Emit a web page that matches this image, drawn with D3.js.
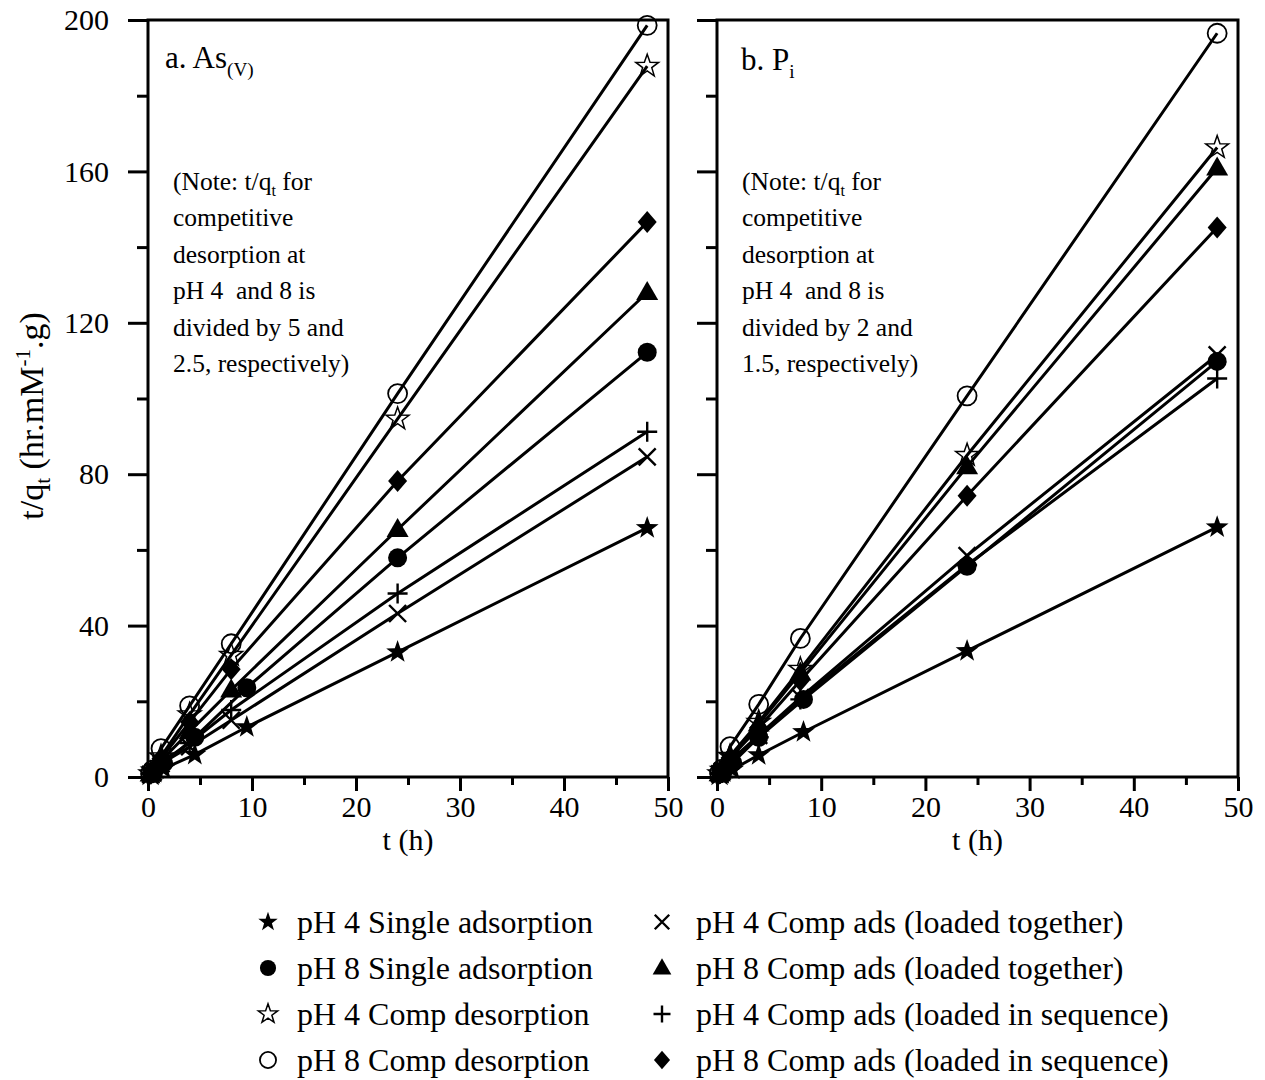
<!DOCTYPE html>
<html>
<head>
<meta charset="utf-8">
<script src="https://cdn.jsdelivr.net/npm/d3@7/dist/d3.min.js"></script>
<style>
  html, body { margin: 0; padding: 0; background: #fff; }
  svg { display: block; font-family: "Liberation Serif", "Times New Roman", serif; }
  text { white-space: pre; }
</style>
</head>
<body>
<svg id="chart" width="1265" height="1080"></svg>
<script>
// Sampling times (h)
const timesSingleAs = [0.5, 1.5, 4.5, 9.5, 24, 48];
const timesCompAs = [0.25, 0.5, 1.25, 4, 8, 24, 48];
const timesSingleP = [0.5, 1.5, 4, 8.3, 24, 48];
const timesCompP = [0.25, 0.5, 1.25, 4, 8, 24, 48];

// As(V): t/qt values
const asSingle4 = [0.8, 2.2, 5.9, 13.2, 33.0, 65.8];
const asSingle8 = [1.3, 3.6, 10.5, 23.6, 57.9, 112.2];
const asDesorb4 = [0.9, 1.6, 5.4, 16.5, 32.2, 94.6, 187.8];
const asDesorb8 = [1.0, 1.9, 7.5, 18.8, 35.2, 101.3, 198.6];
const asTogether4 = [0.7, 1.3, 3.5, 8.0, 15.0, 43.2, 84.6];
const asTogether8 = [0.8, 1.6, 4.3, 12.0, 23.0, 65.4, 128.0];
const asSequence4 = [0.7, 1.4, 3.8, 9.0, 17.7, 48.5, 91.2];
const asSequence8 = [0.9, 1.7, 4.9, 14.5, 28.5, 78.2, 146.6];

// Pi: t/qt values
const pSingle4 = [0.8, 2.0, 5.8, 11.9, 33.3, 66.0];
const pSingle8 = [1.3, 3.8, 10.5, 20.5, 55.7, 109.8];
const pDesorb4 = [0.9, 1.8, 5.5, 14.5, 28.5, 85.0, 166.3];
const pDesorb8 = [1.1, 2.1, 8.0, 19.2, 36.6, 100.7, 196.5];
const pTogether4 = [0.8, 1.5, 4.2, 11.0, 21.0, 58.5, 111.5];
const pTogether8 = [0.9, 1.7, 5.2, 14.0, 27.5, 82.0, 160.9];
const pSequence4 = [0.8, 1.5, 4.1, 10.5, 20.5, 56.0, 105.3];
const pSequence8 = [0.9, 1.7, 5.0, 13.0, 25.5, 74.3, 145.2];

// Legend labels and marker kinds
const seriesLabels = [
  "pH 4 Single adsorption", "pH 8 Single adsorption",
  "pH 4 Comp desorption", "pH 8 Comp desorption",
  "pH 4 Comp ads (loaded together)", "pH 8 Comp ads (loaded together)",
  "pH 4 Comp ads (loaded in sequence)", "pH 8 Comp ads (loaded in sequence)"
];
const seriesMarkers = ["star", "circle", "openStar", "openCircle", "cross", "triangle", "plus", "diamond"];

// Axis ticks
const xMajorTicks = [0, 10, 20, 30, 40, 50];
const xMinorTicks = [5, 15, 25, 35, 45];
const yMajorTicks = [0, 40, 80, 120, 160, 200];
const yMinorTicks = [20, 60, 100, 140, 180];

function buildSeries(single, comp, vals) {
  return vals.map((v, i) => {
    const ts = (i < 2) ? single : comp;
    return { marker: seriesMarkers[i], points: ts.map((t, j) => [t, v[j]]) };
  });
}
const asSeries = buildSeries(timesSingleAs, timesCompAs,
  [asSingle4, asSingle8, asDesorb4, asDesorb8, asTogether4, asTogether8, asSequence4, asSequence8]);
const pSeries = buildSeries(timesSingleP, timesCompP,
  [pSingle4, pSingle8, pDesorb4, pDesorb8, pTogether4, pTogether8, pSequence4, pSequence8]);

const svg = d3.select("#chart");
const plotTop = 20, plotBottom = 777;
const y = d3.scaleLinear().domain([0, 200]).range([plotBottom, plotTop]);

// Marker shapes
function starPath(R) {
  const pts = [];
  for (let i = 0; i < 10; i++) {
    const a = -Math.PI / 2 + i * Math.PI / 5;
    const r = (i % 2 === 0) ? R : R * 0.4;
    pts.push([r * Math.cos(a), r * Math.sin(a)]);
  }
  return "M" + pts.map(p => p[0].toFixed(2) + "," + p[1].toFixed(2)).join("L") + "Z";
}
function drawMarker(g, kind, s) {
  // s: scale factor (1 for plot, smaller for legend)
  switch (kind) {
    case "star":
      g.append("path").attr("d", starPath(12 * s)).attr("fill", "#000");
      break;
    case "openStar":
      g.append("path").attr("d", starPath(12 * s)).attr("fill", "none")
        .attr("stroke", "#000").attr("stroke-width", 1.5);
      break;
    case "circle":
      g.append("circle").attr("r", 9.5 * s).attr("fill", "#000");
      break;
    case "openCircle":
      g.append("circle").attr("r", 9.5 * s).attr("fill", "none")
        .attr("stroke", "#000").attr("stroke-width", 1.8);
      break;
    case "triangle": {
      const h = 19 * s, w = 11 * s;
      g.append("path").attr("d", `M0,${-h * 0.6}L${w},${h * 0.4}L${-w},${h * 0.4}Z`).attr("fill", "#000");
      break;
    }
    case "diamond": {
      const h = 11 * s, w = 9.5 * s;
      g.append("path").attr("d", `M0,${-h}L${w},0L0,${h}L${-w},0Z`).attr("fill", "#000");
      break;
    }
    case "cross": {
      const a = 8.5 * s;
      g.append("path").attr("d", `M${-a},${-a}L${a},${a}M${-a},${a}L${a},${-a}`)
        .attr("stroke", "#000").attr("stroke-width", 2.4).attr("fill", "none");
      break;
    }
    case "plus": {
      const a = 10 * s;
      g.append("path").attr("d", `M${-a},0L${a},0M0,${-a}L0,${a}`)
        .attr("stroke", "#000").attr("stroke-width", 2.4).attr("fill", "none");
      break;
    }
  }
}

function drawPanel(x0, x1, series, showYLabels) {
  const x = d3.scaleLinear().domain([0, 50]).range([x0, x1]);
  const g = svg.append("g");

  // frame
  g.append("rect").attr("x", x0).attr("y", plotTop).attr("width", x1 - x0).attr("height", plotBottom - plotTop)
    .attr("fill", "none").attr("stroke", "#000").attr("stroke-width", 3);

  // x axis
  const xa = g.append("g").attr("transform", `translate(0,${plotBottom})`)
    .call(d3.axisBottom(x).tickValues(xMajorTicks).tickSize(14).tickPadding(5).tickFormat(d3.format("d")));
  xa.append("g").call(d3.axisBottom(x).tickValues(xMinorTicks).tickSize(8).tickFormat(""));
  // y axis
  const ya = g.append("g").attr("transform", `translate(${x0},0)`)
    .call(d3.axisLeft(y).tickValues(yMajorTicks).tickSize(20).tickPadding(19)
      .tickFormat(showYLabels ? d3.format("d") : ""));
  ya.append("g").call(d3.axisLeft(y).tickValues(yMinorTicks).tickSize(11).tickFormat(""));

  g.selectAll(".domain").remove();
  g.selectAll(".tick line").attr("stroke", "#000").attr("stroke-width", 3);
  g.selectAll(".tick text").attr("font-family", "Liberation Serif").attr("font-size", 30).attr("fill", "#000");

  // lines
  const line = d3.line().x(d => x(d[0])).y(d => y(d[1]));
  g.selectAll("path.series").data(series).join("path").attr("class", "series")
    .attr("d", d => line(d.points)).attr("fill", "none").attr("stroke", "#000").attr("stroke-width", 3);

  // markers
  series.forEach(s => {
    s.points.forEach(p => {
      const mg = g.append("g").attr("transform", `translate(${x(p[0])},${y(p[1])})`);
      drawMarker(mg, s.marker, 1);
    });
  });

  // x title
  g.append("text").attr("x", (x0 + x1) / 2).attr("y", 850).attr("text-anchor", "middle")
    .attr("font-size", 30).text("t (h)");
  return g;
}

const gA = drawPanel(148, 668, asSeries, true);
const gB = drawPanel(717, 1238, pSeries, false);

// panel titles
function subText(g, xPos, yPos, main, sub, fs) {
  const t = g.append("text").attr("x", xPos).attr("y", yPos).attr("font-size", fs);
  t.append("tspan").text(main);
  t.append("tspan").attr("font-size", fs * 0.62).attr("dy", 8).text(sub);
  return t;
}
subText(gA, 165, 68, "a. As", "(V)", 31);
subText(gB, 741, 70, "b. P", "i", 31);

// notes
function note(g, xPos, lines) {
  lines.forEach((ln, i) => {
    const t = g.append("text").attr("x", xPos).attr("y", 190 + i * 36.4).attr("font-size", 25.5);
    if (i === 0) {
      t.append("tspan").text("(Note: t/q");
      t.append("tspan").attr("font-size", 16).attr("dy", 6).text("t");
      t.append("tspan").attr("dy", -6).text(" for");
    } else {
      t.text(ln);
    }
  });
}
note(gA, 173, ["", "competitive", "desorption at", "pH 4  and 8 is", "divided by 5 and", "2.5, respectively)"]);
note(gB, 742, ["", "competitive", "desorption at", "pH 4  and 8 is", "divided by 2 and", "1.5, respectively)"]);

// y title
const yt = svg.append("text").attr("transform", "translate(43,416) rotate(-90)")
  .attr("text-anchor", "middle").attr("font-size", 34);
yt.append("tspan").text("t/q");
yt.append("tspan").attr("font-size", 21).attr("dy", 7).text("t");
yt.append("tspan").attr("dy", -7).text(" (hr.mM");
yt.append("tspan").attr("font-size", 21).attr("dy", -13).text("-1");
yt.append("tspan").attr("dy", 13).text(".g)");

// legend: first four series in the left column, last four in the right
const legRows = [922, 968, 1014, 1060];
const legend = svg.append("g");
seriesLabels.forEach((lab, i) => {
  const col = (i < 4) ? 0 : 1;
  const row = (i < 4) ? i : i - 4;
  const sx = col === 0 ? 268 : 662;
  const tx = col === 0 ? 297 : 696;
  const gy = legRows[row];
  const mg = legend.append("g").attr("transform", `translate(${sx},${gy})`);
  drawMarker(mg, seriesMarkers[i], 0.85);
  legend.append("text").attr("x", tx).attr("y", gy + 11).attr("font-size", 32).text(lab);
});
</script>
</body>
</html>
